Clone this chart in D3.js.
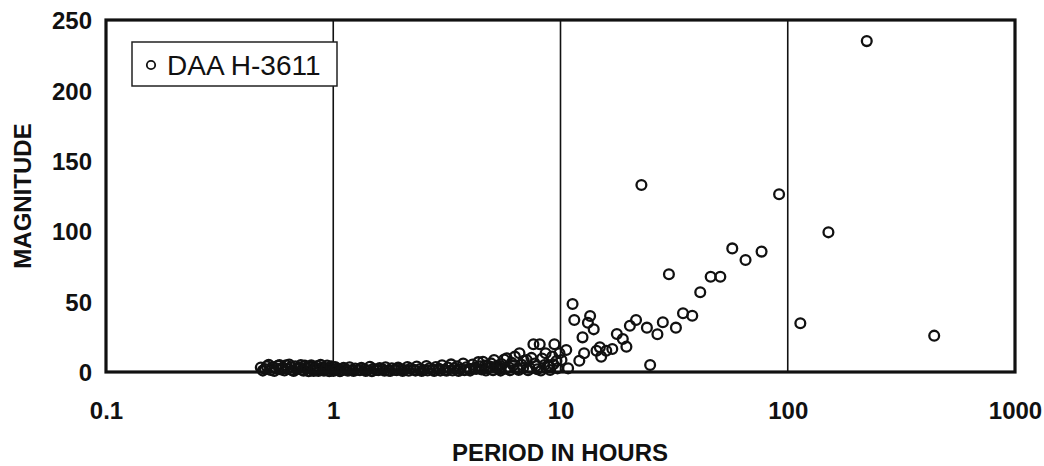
<!DOCTYPE html>
<html lang="en">
<head>
<meta charset="utf-8">
<script src="https://d3js.org/d3.v7.min.js"></script>
<style>
	body { margin: 0; background: #fff; }
	.tick text { font: bold 24px "Liberation Sans", Arial, sans-serif; fill: #111; }
	.title { font: bold 24px "Liberation Sans", Arial, sans-serif; fill: #111; }
</style>
<title>DAA H-3611</title>
</head>
<body>
<svg id="chart" width="1044" height="466"></svg>
<script>
	// period (hours) and magnitude
	var periods = [0.48,0.50,0.51,0.53,0.54,0.56,0.57,0.59,0.60,0.62,0.63,0.65,0.66,0.68,0.70,0.71,0.73,0.75,0.77,0.79,0.81,0.83,0.85,0.87,0.90,0.92,0.94,0.97,0.99,
		1.02,1.05,1.08,1.11,1.14,1.18,1.21,1.25,1.29,1.33,1.37,1.41,1.45,1.50,1.55,1.60,1.65,1.70,1.75,1.81,1.87,1.93,1.99,
		2.05,2.12,2.19,2.26,2.33,2.41,2.49,2.57,2.65,2.74,2.83,2.92,3.01,3.10,3.20,3.30,3.40,3.51,3.62,3.73,3.85,3.97,
		4.1,4.2,4.35,4.5,4.56,4.65,4.8,4.95,5.1,5.2,5.35,5.5,5.65,5.8,5.95,6.1,6.3,6.45,6.6,6.75,6.9,7.1,7.3,7.6,7.7,7.9,8.1,8.3,8.6,8.8,8.95,9.2,9.4,9.6,9.7,9.9,
		10.1,10.6,10.8,11.3,11.5,12.1,12.5,12.7,13.2,13.5,14.0,14.4,14.9,15.1,15.9,16.9,17.7,18.8,19.5,20.2,21.5,22.7,24.0,24.8,26.7,28.2,30,32.2,34.6,38,41.2,45.8,50.5,57,65.2,76.7,91.6,113.6,151,222.7,441,
		// second pass over the dense band
		0.49,0.52,0.55,0.58,0.61,0.64,0.67,0.69,0.72,0.74,0.76,0.78,0.80,0.82,0.84,0.86,0.88,0.91,0.93,0.96,0.98,
		1.00,1.03,1.07,1.10,1.16,1.23,1.31,1.39,1.48,1.58,1.68,1.78,1.90,2.02,2.15,2.30,2.45,2.60,2.78,2.96,3.15,3.35,3.56,3.78,
		4.0,4.25,4.45,4.7,4.9,5.05,5.3,5.45,5.75,6.0,6.2,6.55,6.85,7.2,7.45,7.8,8.2,8.5,9.0,9.3];
	var magnitudes = [3.2,2.1,4.0,1.5,3.5,2.6,4.4,1.8,3.0,4.8,2.2,3.6,1.2,4.1,2.7,3.3,1.6,4.5,2.4,3.8,1.9,3.1,4.2,2.0,3.4,1.4,4.6,2.8,1.7,
		3.6,2.3,1.1,2.9,1.8,3.3,1.3,2.5,1.6,3.0,2.0,1.2,3.7,2.2,1.5,2.8,1.9,3.4,1.1,2.6,1.7,3.1,2.0,
		1.4,3.5,2.4,1.6,3.9,2.1,1.3,4.2,2.7,1.8,3.6,2.3,4.8,1.5,3.2,5.4,2.6,4.1,1.9,6.0,3.4,2.2,
		5.3,3.0,7.0,1.8,7.3,4.5,2.6,6.1,8.5,3.5,1.9,5.6,8.8,9.7,3.2,6.5,10.9,2.4,13.3,5.2,8.0,8.5,3.0,19.7,6.0,2.0,19.7,9.5,13.3,4.5,3.8,11,19.7,7.8,2.6,13.3,
		8.5,15.6,2.6,48.3,36.9,8,24.6,13.3,35,39.8,30.3,15.1,17.5,10.9,15.1,16.3,27,23.4,18,32.9,36.9,132.8,31.5,5,26.8,35.3,69.4,31.5,41.7,40,56.6,67.7,67.7,87.8,79.5,85.5,126.2,34.6,99.2,235,25.8,
		1.0,5.2,0.8,4.9,1.1,5.3,0.7,2.0,5.0,0.9,3.0,0.6,4.7,0.8,2.4,0.7,5.1,0.9,2.6,0.6,4.0,
		0.8,1.5,0.6,1.4,0.9,0.7,1.2,0.8,0.6,1.3,0.9,0.7,1.2,0.8,0.9,1.0,0.7,1.1,0.8,1.0,0.9,1.1,0.8,1.3,
		1.0,2.2,4.0,1.1,3.8,1.2,4.6,1.0,2.4,1.2,4.8,1.4,3.0,1.2,10.0,4.2,1.1,5.0,1.4,5.5];
	var xTicks = [0.1, 1, 10, 100, 1000];
	var yTicks = [0, 50, 100, 150, 200, 250];
	var seriesName = "DAA H-3611";

	var svg = d3.select("#chart");
	var mLeft = 106, mRight = 1015, mTop = 20, mBottom = 372;

	var x = d3.scaleLog().domain([0.1, 1000]).range([mLeft, mRight]);
	var y = d3.scaleLinear().domain([0, 250]).range([mBottom, mTop]);

	// vertical grid lines at each decade
	svg.append("g").selectAll("line")
		.data(xTicks.slice(1, -1))
		.enter().append("line")
		.attr("x1", function(d) { return x(d); })
		.attr("x2", function(d) { return x(d); })
		.attr("y1", mTop)
		.attr("y2", mBottom)
		.attr("stroke", "#111")
		.attr("stroke-width", 1.6);

	// axes
	var xAxis = svg.append("g")
		.attr("transform", "translate(0," + mBottom + ")")
		.call(d3.axisBottom(x).tickValues(xTicks).tickFormat(d3.format("")).tickSize(0).tickPadding(30));
	xAxis.select(".domain").remove();

	var yAxis = svg.append("g")
		.attr("transform", "translate(" + mLeft + ",0)")
		.call(d3.axisLeft(y).tickValues(yTicks).tickSize(0).tickPadding(14));
	yAxis.select(".domain").remove();
	yAxis.selectAll(".tick text").attr("dy", "0.36em");

	// points
	var pts = periods.map(function(p, i) { return {p: p, m: magnitudes[i]}; });
	svg.append("g").selectAll("circle")
		.data(pts)
		.enter().append("circle")
		.attr("cx", function(d) { return x(d.p); })
		.attr("cy", function(d) { return y(d.m); })
		.attr("r", 4.9)
		.attr("fill", "none")
		.attr("stroke", "#111")
		.attr("stroke-width", 2.3);

	// frame
	svg.append("rect")
		.attr("x", mLeft)
		.attr("y", mTop)
		.attr("width", mRight - mLeft)
		.attr("height", mBottom - mTop)
		.attr("fill", "none")
		.attr("stroke", "#111")
		.attr("stroke-width", 3.2);

	// legend
	var lg = svg.append("g");
	lg.append("rect")
		.attr("x", 132).attr("y", 42)
		.attr("width", 205).attr("height", 44)
		.attr("fill", "#fff")
		.attr("stroke", "#222")
		.attr("stroke-width", 1.5);
	lg.append("circle")
		.attr("cx", 151).attr("cy", 65).attr("r", 4.2)
		.attr("fill", "none").attr("stroke", "#111").attr("stroke-width", 1.8);
	lg.append("text")
		.attr("x", 167).attr("y", 75)
		.style("font", "28px 'Liberation Sans', Arial, sans-serif")
		.attr("fill", "#111")
		.text(seriesName);

	// axis titles
	svg.append("text")
		.attr("class", "title")
		.attr("text-anchor", "middle")
		.attr("x", 560)
		.attr("y", 461)
		.text("PERIOD IN HOURS");

	svg.append("text")
		.attr("class", "title")
		.attr("text-anchor", "middle")
		.attr("transform", "translate(31," + (mTop + mBottom) / 2 + ") rotate(-90)")
		.text("MAGNITUDE");
</script>
</body>
</html>
